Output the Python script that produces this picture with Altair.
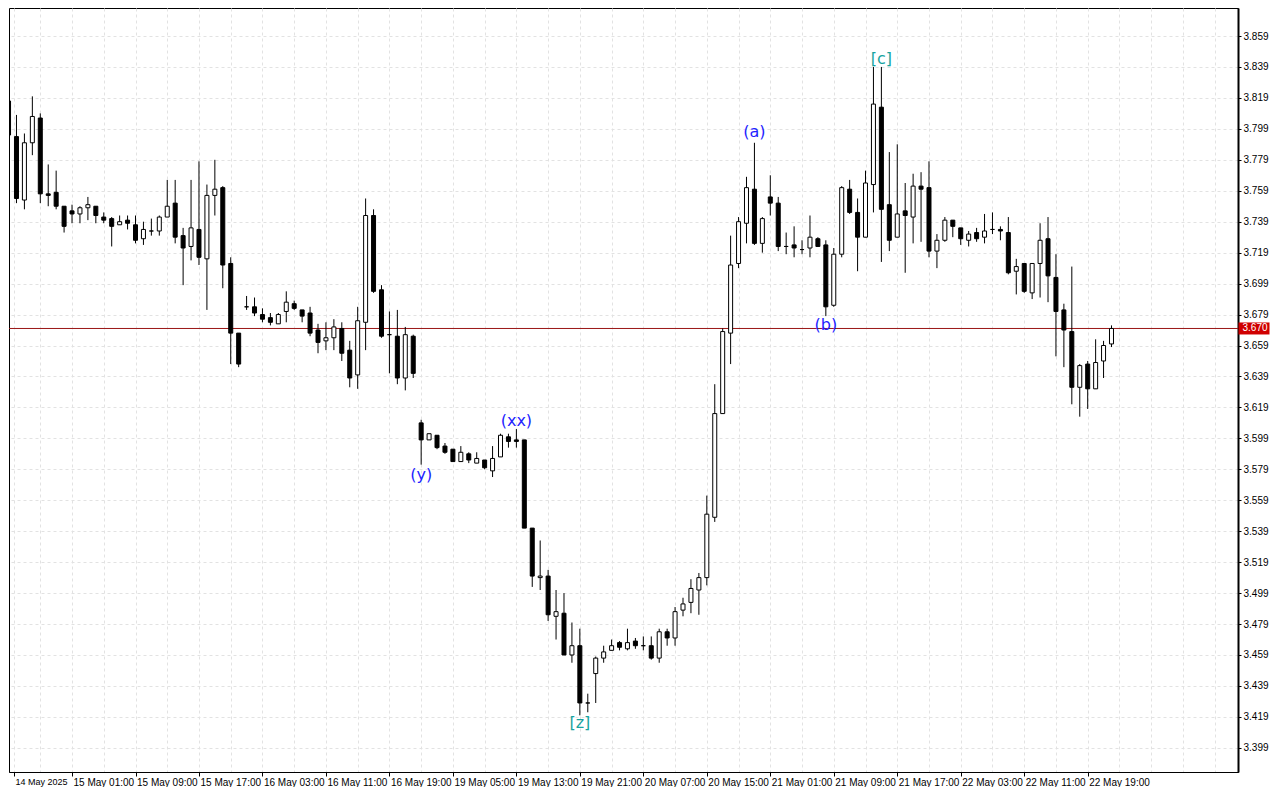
import altair as alt
import pandas as pd

# ---- candle data (hourly bars) ----
open_ = [3.817, 3.794, 3.753, 3.790, 3.806, 3.757, 3.758, 3.749, 3.746, 3.744,
         3.748, 3.749, 3.742, 3.741, 3.737, 3.740, 3.737, 3.728, 3.733, 3.733,
         3.742, 3.751, 3.730, 3.723, 3.734, 3.715, 3.756, 3.761, 3.712, 3.667,
         3.684, 3.684, 3.679, 3.677, 3.673, 3.681, 3.686, 3.682, 3.680, 3.669,
         3.662, 3.664, 3.670, 3.656, 3.640, 3.674, 3.743, 3.695, 3.666, 3.665,
         3.638, 3.665, 3.609, 3.598, 3.601, 3.594, 3.592, 3.584, 3.589, 3.583,
         3.585, 3.578, 3.587, 3.600, 3.598, 3.598, 3.541, 3.509, 3.510, 3.484,
         3.486, 3.459, 3.465, 3.428, 3.447, 3.457, 3.462, 3.467, 3.463, 3.468,
         3.465, 3.465, 3.457, 3.474, 3.470, 3.488, 3.493, 3.501, 3.509, 3.548,
         3.615, 3.667, 3.712, 3.738, 3.760, 3.725, 3.755, 3.751, 3.723, 3.724,
         3.721, 3.722, 3.728, 3.724, 3.685, 3.718, 3.760, 3.745, 3.729, 3.763,
         3.813, 3.750, 3.729, 3.746, 3.742, 3.762, 3.761, 3.720, 3.727, 3.740,
         3.735, 3.727, 3.732, 3.729, 3.734, 3.734, 3.732, 3.707, 3.712, 3.693,
         3.712, 3.728, 3.703, 3.682, 3.668, 3.632, 3.647, 3.631, 3.649, 3.660]
high = [3.819, 3.808, 3.796, 3.820, 3.809, 3.776, 3.772, 3.749, 3.750, 3.749,
        3.755, 3.749, 3.745, 3.742, 3.743, 3.743, 3.743, 3.739, 3.741, 3.743,
        3.766, 3.766, 3.735, 3.766, 3.778, 3.763, 3.779, 3.762, 3.716, 3.667,
        3.691, 3.690, 3.683, 3.680, 3.680, 3.694, 3.688, 3.682, 3.684, 3.673,
        3.674, 3.676, 3.674, 3.662, 3.684, 3.754, 3.747, 3.698, 3.681, 3.682,
        3.671, 3.666, 3.611, 3.602, 3.601, 3.596, 3.592, 3.594, 3.590, 3.590,
        3.585, 3.594, 3.602, 3.602, 3.605, 3.598, 3.541, 3.533, 3.514, 3.501,
        3.499, 3.480, 3.476, 3.434, 3.458, 3.465, 3.469, 3.468, 3.476, 3.470,
        3.471, 3.471, 3.476, 3.476, 3.490, 3.496, 3.508, 3.512, 3.562, 3.634,
        3.670, 3.730, 3.742, 3.768, 3.790, 3.742, 3.769, 3.755, 3.732, 3.736,
        3.727, 3.743, 3.729, 3.727, 3.722, 3.762, 3.766, 3.754, 3.772, 3.839,
        3.839, 3.784, 3.789, 3.764, 3.770, 3.771, 3.778, 3.731, 3.742, 3.740,
        3.735, 3.733, 3.735, 3.744, 3.745, 3.736, 3.742, 3.715, 3.712, 3.712,
        3.738, 3.742, 3.718, 3.686, 3.710, 3.647, 3.649, 3.663, 3.662, 3.672]
low = [3.794, 3.751, 3.747, 3.782, 3.751, 3.749, 3.747, 3.732, 3.738, 3.738,
       3.740, 3.738, 3.738, 3.723, 3.737, 3.734, 3.725, 3.724, 3.730, 3.730,
       3.742, 3.725, 3.698, 3.714, 3.711, 3.682, 3.743, 3.696, 3.647, 3.645,
       3.682, 3.678, 3.674, 3.672, 3.673, 3.674, 3.682, 3.674, 3.665, 3.654,
       3.656, 3.656, 3.649, 3.632, 3.631, 3.656, 3.693, 3.664, 3.641, 3.634,
       3.630, 3.638, 3.582, 3.598, 3.592, 3.589, 3.584, 3.584, 3.583, 3.583,
       3.579, 3.574, 3.587, 3.593, 3.593, 3.541, 3.503, 3.501, 3.481, 3.469,
       3.459, 3.454, 3.420, 3.422, 3.428, 3.454, 3.462, 3.462, 3.462, 3.463,
       3.462, 3.456, 3.454, 3.465, 3.465, 3.484, 3.486, 3.485, 3.504, 3.545,
       3.615, 3.647, 3.709, 3.725, 3.724, 3.719, 3.743, 3.720, 3.718, 3.716,
       3.718, 3.716, 3.723, 3.678, 3.684, 3.716, 3.744, 3.707, 3.729, 3.745,
       3.713, 3.720, 3.729, 3.706, 3.725, 3.726, 3.716, 3.709, 3.726, 3.729,
       3.724, 3.723, 3.726, 3.725, 3.731, 3.727, 3.705, 3.692, 3.693, 3.689,
       3.690, 3.687, 3.652, 3.645, 3.621, 3.613, 3.618, 3.631, 3.638, 3.658]
close = [3.795, 3.754, 3.790, 3.807, 3.757, 3.756, 3.749, 3.736, 3.744, 3.748,
         3.750, 3.743, 3.740, 3.736, 3.739, 3.738, 3.727, 3.734, 3.733, 3.742,
         3.749, 3.729, 3.722, 3.735, 3.716, 3.756, 3.760, 3.711, 3.667, 3.647,
         3.684, 3.680, 3.676, 3.674, 3.679, 3.687, 3.683, 3.678, 3.667, 3.661,
         3.664, 3.671, 3.654, 3.638, 3.675, 3.743, 3.694, 3.665, 3.666, 3.638,
         3.666, 3.641, 3.598, 3.602, 3.593, 3.590, 3.584, 3.590, 3.585, 3.586,
         3.580, 3.586, 3.601, 3.597, 3.597, 3.541, 3.510, 3.510, 3.485, 3.487,
         3.459, 3.465, 3.428, 3.428, 3.457, 3.461, 3.465, 3.464, 3.467, 3.465,
         3.465, 3.457, 3.474, 3.470, 3.487, 3.492, 3.502, 3.509, 3.550, 3.615,
         3.668, 3.711, 3.739, 3.761, 3.725, 3.741, 3.751, 3.723, 3.723, 3.722,
         3.721, 3.729, 3.723, 3.684, 3.718, 3.761, 3.745, 3.729, 3.764, 3.815,
         3.747, 3.727, 3.744, 3.743, 3.762, 3.760, 3.720, 3.727, 3.740, 3.736,
         3.728, 3.731, 3.728, 3.733, 3.734, 3.733, 3.706, 3.710, 3.694, 3.712,
         3.727, 3.704, 3.681, 3.669, 3.632, 3.646, 3.631, 3.648, 3.659, 3.670]

# ---- axis labels ----
x_labels = ["14 May 2025", "15 May 01:00", "15 May 09:00", "15 May 17:00",
            "16 May 03:00", "16 May 11:00", "16 May 19:00", "19 May 05:00",
            "19 May 13:00", "19 May 21:00", "20 May 07:00", "20 May 15:00",
            "21 May 01:00", "21 May 09:00", "21 May 17:00", "22 May 03:00",
            "22 May 11:00", "22 May 19:00"]
y_ticks = [3.399, 3.419, 3.439, 3.459, 3.479, 3.499, 3.519, 3.539, 3.559,
           3.579, 3.599, 3.619, 3.639, 3.659, 3.679, 3.699, 3.719, 3.739,
           3.759, 3.779, 3.799, 3.819, 3.839, 3.859, 3.879]

# ---- current price and wave labels ----
last_price = [3.670]
wave_text = ["(y)", "(xx)", "[z]", "(a)", "(b)", "[c]"]
wave_bar = [52, 64, 72, 94, 103, 110]
wave_price = [3.575, 3.610, 3.415, 3.797, 3.672, 3.844]
wave_color = ["#2323ff", "#2323ff", "#16a3a0", "#2323ff", "#2323ff", "#16a3a0"]

candles = pd.DataFrame({"i": list(range(len(open_))), "open": open_,
                        "high": high, "low": low, "close": close})
waves = pd.DataFrame({"i": wave_bar, "low": wave_price,
                      "label": wave_text, "color": wave_color})
price_df = pd.DataFrame({"low": last_price})

W, H = 1229, 764
XDOM = [0.6875, 154.3125]
YDOM = [3.383394, 3.877094]
FONT = "DejaVu Sans"
AXFONT = "Liberation Sans"
GRID = "#e2e2e2"
LAST_LABELED = 8 * (len(x_labels) - 1)

arr = "[" + ",".join("'" + s + "'" for s in x_labels) + "]"
label_expr = ("datum.value < 1 ? " + arr + "[0] : (datum.value % 8 === 0 && datum.value <= "
              + str(LAST_LABELED) + " ? " + arr + "[datum.value / 8] : '')")
tick_test = ("datum.value < 1 || (datum.value % 8 === 0 && datum.value <= "
             + str(LAST_LABELED) + ")")

x_axis = alt.Axis(values=[XDOM[0]] + list(range(4, 154, 4)), labelExpr=label_expr,
                  grid=True, gridColor=GRID, gridDash=[3, 3], gridWidth=1,
                  tickColor="black", tickSize=4,
                  tickOpacity={"condition": {"test": tick_test, "value": 1}, "value": 0},
                  labelAlign="left", labelBaseline="top", labelPadding=1,
                  labelOffset=1, labelFont=AXFONT,
                  labelFontSize={"condition": {"test": "datum.value < 1", "value": 9},
                                 "value": 10},
                  labelColor="black",
                  labelOverlap=False, labelFlush=False, domainColor="black",
                  title=None)
y_axis = alt.Axis(orient="right", values=y_ticks, format=".3f", grid=True,
                  gridColor=GRID, gridDash=[3, 3], gridWidth=1,
                  tickColor="black", tickSize=3, labelPadding=2,
                  labelFont=AXFONT, labelFontSize=10, labelColor="black",
                  labelOverlap=False, labelFlush=False, domainColor="black",
                  domainWidth=2, title=None)

xs = alt.Scale(domain=XDOM, nice=False, zero=False)
ys = alt.Scale(domain=YDOM, nice=False, zero=False)

X = alt.X("i:Q", scale=xs, axis=x_axis)

wick = alt.Chart(candles).mark_rule(color="black", strokeWidth=1, clip=True).encode(
    x=X, y=alt.Y("low:Q", scale=ys, axis=y_axis), y2="high:Q")

body = alt.Chart(candles).mark_bar(size=4, stroke="black", strokeWidth=1,
                                   clip=True).encode(
    x=X, y=alt.Y("open:Q", scale=ys, axis=y_axis), y2="close:Q",
    fill=alt.condition("datum.close >= datum.open", alt.value("white"),
                       alt.value("black")))

pline = alt.Chart(price_df).mark_rule(color="#9a1616", strokeWidth=1).encode(
    y=alt.Y("low:Q", scale=ys, axis=y_axis))

ptag = alt.Chart(price_df).mark_tick(orient="horizontal", size=31, thickness=12,
                                     color="#d00000", opacity=1).encode(
    x=alt.value(W + 16), y=alt.Y("low:Q", scale=ys, axis=y_axis))

ptext = alt.Chart(price_df).mark_text(color="white", font=AXFONT, fontSize=10,
                                      align="center", baseline="middle").encode(
    x=alt.value(W + 17), y=alt.Y("low:Q", scale=ys, axis=y_axis),
    text=alt.Text("low:Q", format=".3f"))

wlab = alt.Chart(waves).mark_text(font=FONT, fontSize=16, align="center",
                                  baseline="middle").encode(
    x=X, y=alt.Y("low:Q", scale=ys, axis=y_axis), text="label:N",
    color=alt.Color("color:N", scale=None))

chart = alt.layer(pline, wick, body, wlab, ptag, ptext).properties(
    width=W, height=H, padding=0, background="white"
).configure_view(stroke="black", strokeWidth=1)

chart.save("out.html", embed_options={"renderer": "svg", "actions": False})
